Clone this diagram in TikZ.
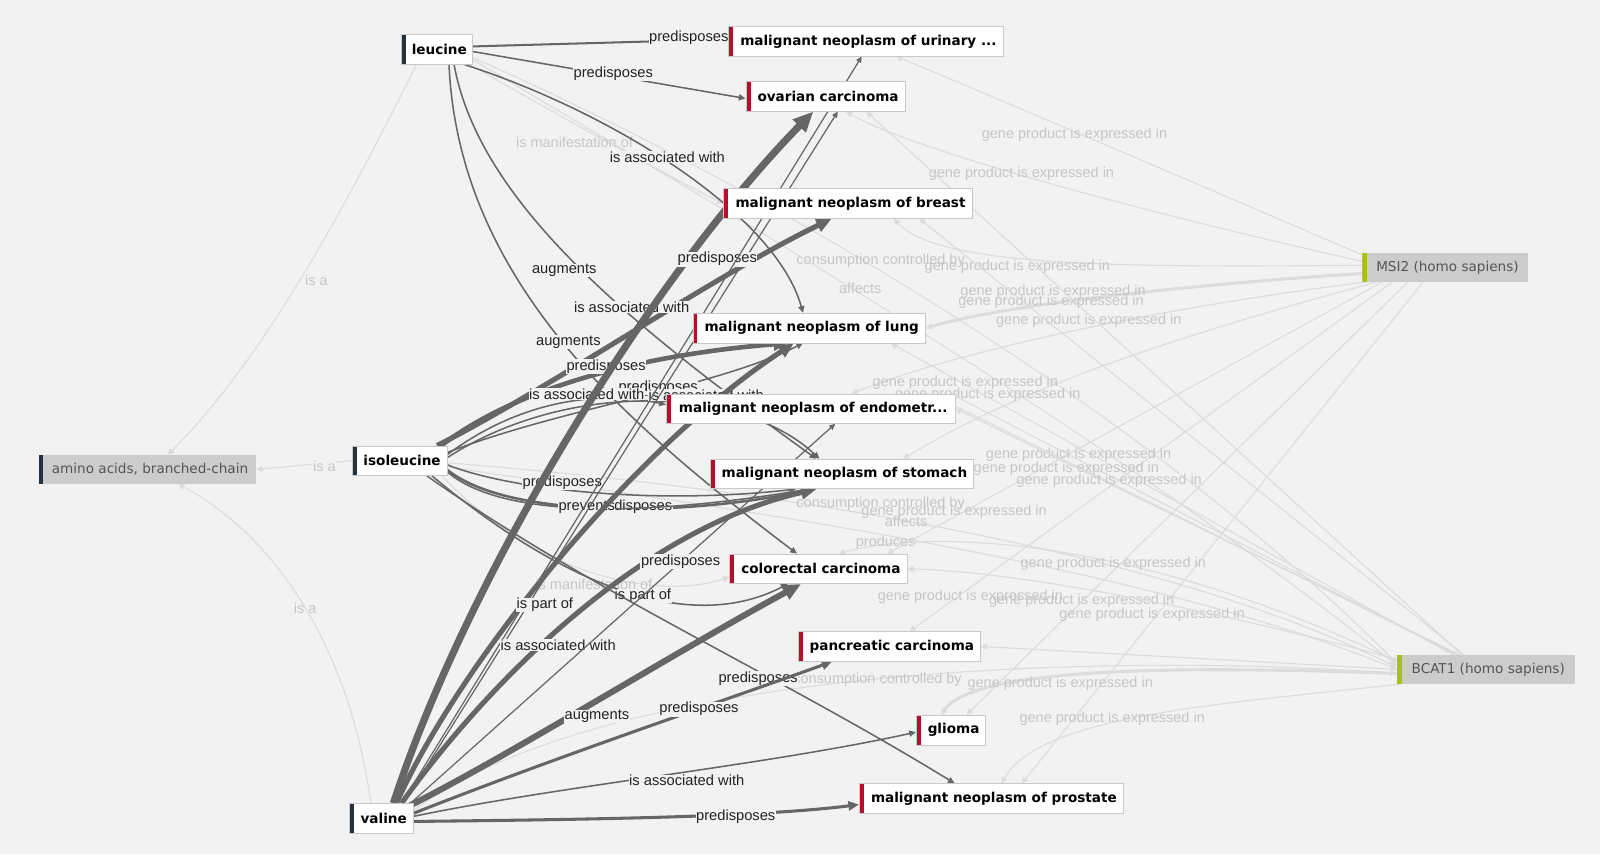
\documentclass[tikz,border=0pt]{standalone}
\usepackage{fontspec}
\usetikzlibrary{arrows.meta,calc}
\newfontfamily\nfont{DejaVu Sans}
\newfontfamily\lfont{Liberation Sans}
\definecolor{bgc}{HTML}{F2F2F2}
\definecolor{edk}{HTML}{666666}
\definecolor{elt}{HTML}{DCDCDC}
\definecolor{lbdk}{HTML}{222222}
\definecolor{lblt}{HTML}{C6C6C6}
\definecolor{disc}{HTML}{B5102B}
\definecolor{chemc}{HTML}{25313D}
\definecolor{genec}{HTML}{A8C20A}
\definecolor{fadefill}{HTML}{CCCCCC}
\definecolor{fadetext}{HTML}{555555}
\definecolor{boxborder}{HTML}{C8C8C8}
\pgfdeclarelayer{back}
\pgfdeclarelayer{edges}
\pgfsetlayers{back,edges,main}
\tikzset{
  nodebox/.style={draw=boxborder, line width=0.7pt, fill=white, minimum height=29pt, inner ysep=0pt, font=\nfont\bfseries\fontsize{13.3}{15}\selectfont, text=black, execute at begin node={\hspace*{5pt}}},
  bar/.style={path picture={\fill[#1] (path picture bounding box.north west) rectangle ([xshift=4.5pt]path picture bounding box.south west);}},
  chem/.style={nodebox, bar=chemc},
  dis/.style={nodebox, bar=disc},
  faded/.style={fill=fadefill, draw=none, minimum height=28pt, inner ysep=0pt, font=\nfont\fontsize{13.3}{15}\selectfont, text=fadetext, execute at begin node={\hspace*{5pt}}},
  dk/.style={draw=edk, line width=#1, -{Triangle[length=3pt 2.4 0, width=3pt 2 0]}},
  dk/.default=1.5pt,
  lt/.style={draw=elt, line width=#1, -{Triangle[length=6pt, width=6pt]}},
  lt/.default=1.1pt,
  el/.style={font=\lfont\fontsize{14.4}{16}\selectfont, text=lbdk, fill=bgc, inner sep=0.5pt},
  fl/.style={font=\lfont\fontsize{14.2}{16}\selectfont, text=lblt, inner sep=0.5pt},
}
\begin{document}
\begin{tikzpicture}[x=1pt,y=-1pt]
\begin{pgfonlayer}{back}
\fill[bgc] (0,0) rectangle (1568,837);
\end{pgfonlayer}
\useasboundingbox (0,0) rectangle (1568,837);

% ---------- nodes ----------
\node[chem, minimum width=70pt] (leu) at (428,48.5) {leucine};
\node[chem, minimum width=93pt] (iso) at (391.5,451.5) {isoleucine};
\node[chem, minimum width=63pt] (val) at (373.5,802) {valine};
\node[faded, bar=chemc, minimum width=213pt] (aa) at (144.5,460) {amino acids, branched-chain};
\node[dis, minimum width=269pt] (urin) at (848.5,40.5) {malignant neoplasm of urinary ...};
\node[dis, minimum width=156pt] (ovar) at (809,94.5) {ovarian carcinoma};
\node[dis, minimum width=244pt] (breast) at (831,199.5) {malignant neoplasm of breast};
\node[dis, minimum width=228pt] (lung) at (793,321.5) {malignant neoplasm of lung};
\node[dis, minimum width=283pt] (endo) at (794.5,400.5) {malignant neoplasm of endometr...};
\node[dis, minimum width=258pt] (stom) at (825,464.5) {malignant neoplasm of stomach};
\node[dis, minimum width=174pt] (colo) at (802,557.5) {colorectal carcinoma};
\node[dis, minimum width=179pt] (panc) at (871.5,633.5) {pancreatic carcinoma};
\node[dis, minimum width=68pt] (glio) at (932,715.5) {glioma};
\node[dis, minimum width=259pt] (pros) at (971.5,782.5) {malignant neoplasm of prostate};
\node[faded, bar=genec, minimum width=162pt] (msi2) at (1416,262) {MSI2 (homo sapiens)};
\node[faded, bar=genec, minimum width=174pt] (bcat1) at (1456,656) {BCAT1 (homo sapiens)};

\begin{pgfonlayer}{edges}
% ---------- faded edges ----------
\draw[lt] ($(leu.south)+(-20,0)$) .. controls (340,200) and (260,350) .. ($(aa.north)+(20,0)$);
\node[fl] (f1) at (310,275) {is a};
\draw[lt] (iso.west) -- (aa.east);
\node[fl, fill=bgc] (f2) at (318,457) {is a};
\draw[lt] ($(val.north)+(-10,0)$) .. controls (340,620) and (260,520) .. ($(aa.south)+(30,0)$);
\node[fl] (f3) at (299,596) {is a};
\draw[lt] ($(leu.south east)+(-3,0)$) .. controls (560,120) and (650,170) .. (breast.west);
\node[fl] (f4) at (563,139) {is manifestation of};
\draw[lt] ($(iso.south east)+(-5,0)$) .. controls (520,560) and (640,590) .. ($(colo.west)+(0,8)$);
\node[fl] (f5) at (582,573) {is manifestation of};
\draw[lt] ($(leu.east)+(0,8)$) .. controls (700,160) and (1100,380) .. ($(bcat1.west)+(0,-6)$);
\node[fl] (f6) at (863,256) {consumption controlled by};
\draw[lt] ($(leu.east)+(0,10)$) .. controls (700,200) and (1080,420) .. ($(bcat1.west)+(0,-4)$);
\node[fl] (f7) at (843,283) {affects};
\draw[lt] ($(iso.east)+(0,2)$) .. controls (650,470) and (1100,520) .. ($(bcat1.west)+(0,-2)$);
\node[fl] (f8) at (863,494) {consumption controlled by};
\draw[lt] ($(iso.east)+(0,6)$) .. controls (650,490) and (1100,545) .. (bcat1.west);
\node[fl] (f9) at (888,511) {affects};
\draw[lt] ($(bcat1.west)+(0,-8)$) .. controls (1100,520) and (900,520) .. ($(colo.north)+(20,0)$);
\node[fl] (f10) at (868,532) {produces};
\draw[lt] ($(val.east)+(0,-8)$) .. controls (600,650) and (1100,640) .. ($(bcat1.west)+(0,4)$);
\node[fl] (f11) at (860,666) {consumption controlled by};
% MSI2
\draw[lt] ($(msi2.west)+(5,-10)$) .. controls (1150,170) and (950,85) .. ($(urin.south)+(30,0)$);
\node[fl] (f12) at (1053,132) {gene product is expressed in};
\draw[lt] ($(msi2.west)+(0,-6)$) .. controls (1150,215) and (900,150) .. ($(ovar.south)+(20,0)$);
\node[fl] (f13) at (1001,170) {gene product is expressed in};
\draw[lt] ($(msi2.west)+(0,-2)$) .. controls (1100,262) and (920,262) .. ($(breast.south)+(45,0)$);
\node[fl] (f14) at (997,261) {gene product is expressed in};
\draw[lt=3pt] ($(msi2.west)+(0,6)$) .. controls (1150,280) and (980,300) .. (lung.east);
\node[fl] (f15) at (1032,286) {gene product is expressed in};
\node[fl] (f16) at (1030,296) {gene product is expressed in};
\draw[lt] ($(msi2.south west)+(5,0)$) .. controls (1150,300) and (950,340) .. ($(endo.north)+(40,0)$);
\node[fl] (f17) at (1067,314) {gene product is expressed in};
\draw[lt] ($(msi2.south west)+(15,0)$) .. controls (1150,330) and (1000,380) .. ($(stom.north)+(60,0)$);
\node[fl] (f18) at (968,387) {gene product is expressed in};
\draw[lt] ($(msi2.south west)+(20,0)$) -- ($(colo.north east)+(-20,0)$);
\node[fl] (f19) at (935,502) {gene product is expressed in};
\draw[lt] ($(msi2.south west)+(30,0)$) -- ($(panc.north)+(20,0)$);
\node[fl] (f20) at (951,585) {gene product is expressed in};
\draw[lt] ($(msi2.south west)+(45,0)$) -- ($(glio.north)+(15,0)$);
\node[fl] (f21) at (1060,589) {gene product is expressed in};
\draw[lt] ($(msi2.south west)+(60,0)$) -- ($(pros.north)+(30,0)$);
\node[fl] (f22) at (1129,602) {gene product is expressed in};
% BCAT1
\draw[lt] ($(bcat1.north west)+(55,0)$) -- ($(lung.south)+(80,0)$);
\node[fl] (f23) at (946,375) {gene product is expressed in};
\draw[lt] ($(bcat1.north west)+(58,0)$) -- ($(endo.north east)+(-5,0)$);
\node[fl] (f24) at (1057,446) {gene product is expressed in};
\draw[lt] ($(bcat1.north west)+(60,0)$) -- ($(endo.north east)+(-25,0)$);
\node[fl] (f25) at (1045,459) {gene product is expressed in};
\draw[lt] ($(bcat1.north west)+(62,0)$) -- (endo.east);
\node[fl] (f26) at (1087,471) {gene product is expressed in};
\draw[lt] ($(bcat1.north west)+(64,0)$) -- ($(ovar.south)+(40,0)$);
\draw[lt] ($(bcat1.north west)+(66,0)$) -- ($(breast.south)+(70,0)$);
\draw[lt] ($(bcat1.west)+(0,-10)$) .. controls (1200,600) and (1000,560) .. (colo.east);
\node[fl] (f27) at (1091,552) {gene product is expressed in};
\draw[lt] (bcat1.west) -- (panc.east);
\draw[lt=3pt] ($(bcat1.west)+(0,4)$) .. controls (1100,650) and (950,660) .. ($(glio.north)+(-10,0)$);
\node[fl] (f28) at (1039,670) {gene product is expressed in};
\draw[lt] ($(bcat1.south west)+(5,0)$) .. controls (1200,690) and (1020,700) .. ($(pros.north)+(10,0)$);
\node[fl] (f29) at (1090,704) {gene product is expressed in};

% ---------- dark edges ----------
% leucine
\draw[dk=2pt] ([yshift=3pt]leu.east) -- ([yshift=2pt]urin.west);
\node[el] (t1) at (675,37) {predisposes};
\draw[dk] ([yshift=-2pt]leu.east) -- ([yshift=-2pt]ovar.west);
\node[el] (t2) at (601,72) {predisposes};
\draw[dk] ($(leu.south east)+(-8,0)$) .. controls (600,110) and (760,210) .. ($(lung.north)+(-6,0)$);
\node[el] (t3) at (654,154) {is associated with};
\draw[dk] ($(leu.south)+(17,0)$) .. controls (470,200) and (620,320) .. ($(stom.north)+(-25,0)$);
\node[el] (t4) at (553,265) {augments};
\draw[dk] ($(leu.south)+(12,0)$) .. controls (450,280) and (620,420) .. ($(colo.north)+(-21,0)$);
\node[el] (t5) at (557,335) {augments};
% isoleucine
\draw[dk=5pt] ($(iso.north east)+(-10,0)$) .. controls (540,380) and (700,270) .. ($(breast.south)+(-16,0)$);
\node[el] (t6) at (619,301) {is associated with};
\draw[dk=4.5pt] ($(iso.north east)+(-6,0)$) .. controls (520,370) and (660,345) .. ($(lung.south)+(-21,0)$);
\node[el] (t7) at (594,359) {predisposes};
\draw[dk] ($(iso.east)+(0,-8)$) .. controls (550,400) and (700,380) .. ($(lung.south)+(-6,0)$);
\node[el] (t10) at (645,380) {predisposes};
\draw[dk] ($(iso.east)+(0,-6)$) .. controls (520,385) and (600,385) .. ($(endo.west)+(0,-4)$);
\node[el] (t8) at (575,386) {is associated with};
\draw[dk] ($(iso.east)+(0,-3)$) .. controls (560,370) and (730,380) .. ($(stom.north)+(-22,0)$);
\node[el] (t9) at (692,387) {is associated with};
\draw[dk] ($(iso.east)+(0,4)$) .. controls (500,480) and (640,495) .. ($(stom.south)+(-45,0)$);
\node[el] (t11) at (551,473) {predisposes};
\draw[dk=2.5pt] ($(iso.east)+(0,9)$) .. controls (500,510) and (680,505) .. ($(stom.south)+(-30,0)$);
\node[el] (t12) at (620,497) {predisposes};
\draw[dk] ($(iso.east)+(0,11)$) .. controls (500,515) and (670,500) .. ($(stom.south)+(-33,0)$);
\node[el] (t13) at (575,497) {prevents};
\draw[dk] ($(iso.south east)+(-15,0)$) .. controls (560,580) and (680,620) .. ($(colo.south)+(-30,0)$);
\node[el] (t14) at (630,584) {is part of};
\draw[dk] ($(iso.south east)+(-20,0)$) .. controls (580,580) and (760,660) .. ($(pros.north)+(-36,0)$);
\node[el] (t15) at (743,665) {predisposes};
% valine
\draw[dk=7pt] ($(val.north)+(12,0)$) .. controls (460,560) and (640,270) .. ($(ovar.south)+(-12,0)$);
\draw[dk=1.2pt] ($(val.north)+(22,0)$) -- ($(ovar.south)+(12,0)$);
\node[el] (t16) at (703,254) {predisposes};
\draw[dk=1.2pt] ($(val.north)+(20,0)$) -- ($(urin.south)+(-4,0)$);
\draw[dk=5pt] ($(val.north)+(15,0)$) .. controls (450,650) and (620,440) .. ($(lung.south)+(-15,0)$);
\node[el] (t17) at (534,593) {is part of};
\draw[dk=5pt] ($(val.north)+(20,0)$) .. controls (470,680) and (620,520) .. ($(stom.south)+(-25,0)$);
\node[el] (t18) at (547,632) {is associated with};
\draw[dk=6pt] ($(val.north east)+(-5,3)$) .. controls (500,740) and (660,640) .. ($(colo.south)+(-17,0)$);
\node[el] (t19) at (585,702) {augments};
\draw[dk=1.2pt] ($(val.north east)+(-3,0)$) -- ($(endo.south)+(24,0)$);
\node[el] (t20) at (667,550) {predisposes};
\draw[dk=3pt] ($(val.east)+(0,-5)$) .. controls (550,740) and (700,690) .. ($(panc.south)+(-56,0)$);
\node[el] (t21) at (685,695) {predisposes};
\draw[dk] ($(val.east)+(0,-2)$) .. controls (550,770) and (750,750) .. ($(glio.west)+(0,2)$);
\node[el] (t22) at (673,765) {is associated with};
\draw[dk=3pt] ($(val.east)+(0,3)$) .. controls (600,803) and (750,800) .. ($(pros.west)+(0,6)$);
\node[el] (t23) at (721,800) {predisposes};
\end{pgfonlayer}
\end{tikzpicture}
\end{document}
